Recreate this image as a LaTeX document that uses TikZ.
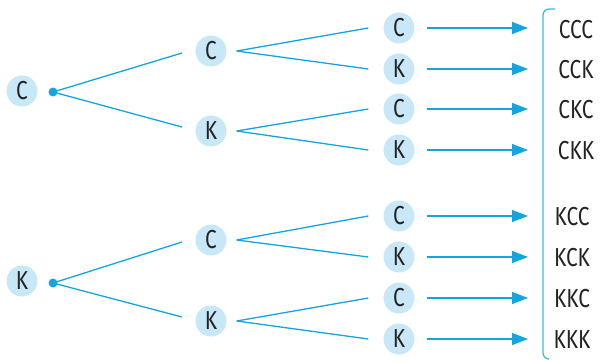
\documentclass[tikz,border=0pt]{standalone}
\usepackage{fontspec}
\setmainfont{Fira Sans}[FakeStretch=0.8]
\usetikzlibrary{arrows.meta}
\definecolor{lineblue}{RGB}{20,165,225}
\definecolor{circblue}{RGB}{200,232,248}
\definecolor{txt}{RGB}{35,35,35}
\tikzset{
  ev/.style={circle,fill=circblue,minimum size=31pt,inner sep=0pt,text=txt,font=\fontsize{26}{26}\selectfont},
  br/.style={draw=lineblue,line width=1.3pt},
  ar/.style={draw=lineblue,line width=1.3pt,-{Triangle[length=16pt,width=12pt]}},
  lab/.style={text=txt,font=\fontsize{26}{26}\selectfont,inner sep=0pt},
  dotn/.style={circle,fill=lineblue,minimum size=9pt,inner sep=0pt}
}
\begin{document}
\begin{tikzpicture}[x=1pt,y=-1pt]
\useasboundingbox (0,0) rectangle (604,361);
% roots
\node[ev] (r1) at (22,91) {C};
\node[ev] (r2) at (22,281) {K};
\node[dotn] (d1) at (53,92) {};
\node[dotn] (d2) at (53,283) {};
% level 2
\node[ev] (a1) at (211,51) {C};
\node[ev] (a2) at (211,131) {K};
\node[ev] (a3) at (211,240) {C};
\node[ev] (a4) at (211,321) {K};
% level 3
\foreach \i/\y/\t in {1/28/C,2/69/K,3/109/C,4/150/K,5/216/C,6/257/K,7/298/C,8/339/K}{
  \node[ev] (b\i) at (399,\y) {\t};
  \coordinate (e\i) at (528,\y);
  \draw[ar] ([xshift=12pt]b\i.east) -- (e\i);
}
% edges root->level2
\coordinate (p1) at (182,53);
\coordinate (p2) at (182,127);
\coordinate (p3) at (182,242);
\coordinate (p4) at (182,317);
\draw[br] (d1.center) -- (p1);
\draw[br] (d1.center) -- (p2);
\draw[br] (d2.center) -- (p3);
\draw[br] (d2.center) -- (p4);
% level2 -> level3
\foreach \a/\b/\c in {1/1/2,2/3/4,3/5/6,4/7/8}{
  \coordinate (s\a) at ([xshift=10pt]a\a.east);
  \draw[br] (s\a) -- ([xshift=-15pt]b\b.west);
  \draw[br] (s\a) -- ([xshift=-15pt]b\c.west);
}
% bracket
\coordinate (t1) at (555,9);
\coordinate (t2) at (549,359);
\draw[br,draw=lineblue!80,rounded corners=6pt] (t1) -- (543,9) -- (543,359) -- (t2);
% labels
\node[lab] (l1) at (576,30) {CCC};
\node[lab] (l2) at (576,70) {CCK};
\node[lab] (l3) at (576,110) {CKC};
\node[lab] (l4) at (576,151) {CKK};
\node[lab] (l5) at (572,217) {KCC};
\node[lab] (l6) at (572,258) {KCK};
\node[lab] (l7) at (572,299) {KKC};
\node[lab] (l8) at (572,340) {KKK};
\end{tikzpicture}
\end{document}
